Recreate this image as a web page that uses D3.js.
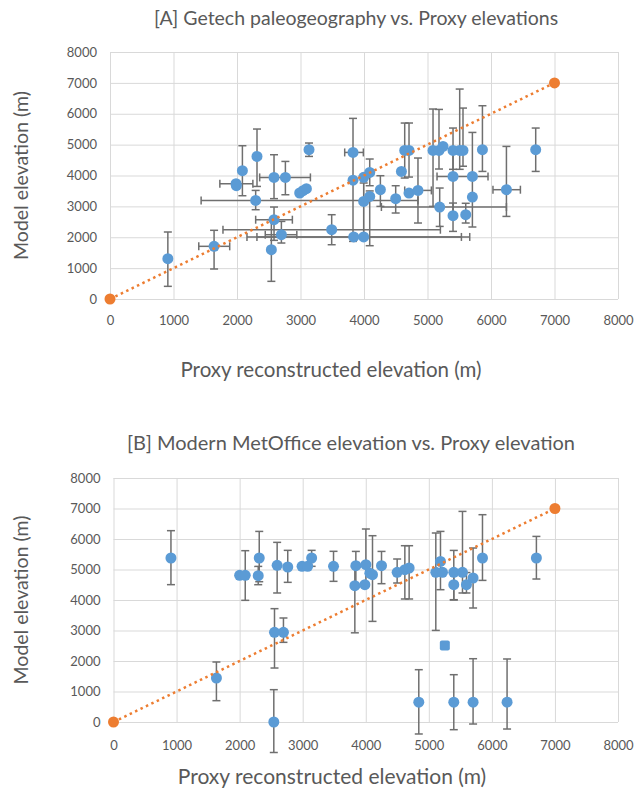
<!DOCTYPE html>
<html>
<head>
<meta charset="utf-8">
<script src="https://cdn.jsdelivr.net/npm/d3@7"></script>
<style>
  body { margin: 0; background: #fff; }
  text { font-family: Lato, "Open Sans", sans-serif; fill: #595959; }
</style>
</head>
<body>
<svg id="chart" width="640" height="793"></svg>
<script>
const tickValues = [0, 1000, 2000, 3000, 4000, 5000, 6000, 7000, 8000];
const titleA = '[A] Getech paleogeography vs. Proxy elevations';
const titleB = '[B] Modern MetOffice elevation vs. Proxy elevation';
const xTitle = 'Proxy reconstructed elevation (m)';
const yTitle = 'Model elevation (m)';
const oneToOne = [[0, 0], [7000, 7000]];

// [proxy, model, modelLow, modelHigh, proxyLow, proxyHigh]
const getechPoints = [
  [911, 1307, 410, 2170, null, null],
  [1639, 1706, 972, 2225, 1398, 1885],
  [1985, 3734, null, null, 1730, 2250],
  [1990, 3669, null, null, null, null],
  [2085, 4155, 3345, 4964, null, null],
  [2315, 4618, 3646, 5505, null, null],
  [2294, 3194, 2892, 3517, 1435, 4850],
  [2583, 3938, 3250, 4673, null, null],
  [2762, 3938, 3377, 4456, 2357, 3156],
  [2583, 2568, 1900, 2979, 2294, 2872],
  [2541, 1596, 572, 2570, null, null],
  [2699, 2082, 1813, 2513, 2445, 2942],
  [2987, 3433, null, null, null, null],
  [3040, 3507, null, null, null, null],
  [3093, 3572, null, null, null, null],
  [3134, 4835, 4618, 5052, null, null],
  [3491, 2244, 1758, 2730, 1779, 5203],
  [3827, 4747, null, null, 3696, 3990],
  [3827, 3850, 1866, 5850, null, null],
  [3838, 2010, null, null, 2157, 5534],
  [3995, 2010, null, null, 2314, 5665],
  [3995, 3940, null, null, null, null],
  [4090, 4100, 3669, 4534, null, null],
  [3995, 3161, 2010, 3757, null, null],
  [4090, 3323, 1726, 3500, null, null],
  [4258, 3540, 2999, 3993, null, null],
  [4499, 3248, 2785, 3669, null, null],
  [4589, 4132, null, null, null, null],
  [4641, 4812, 3918, 5699, null, null],
  [4709, 4812, 3950, 5700, null, null],
  [4709, 3432, null, null, null, null],
  [4850, 3517, 2461, 4566, 4641, 5061],
  [5087, 4812, 3000, 6153, null, null],
  [5181, 4812, 4210, 6140, null, null],
  [5244, 4942, null, null, null, null],
  [5192, 2979, 2351, 3594, 4274, 6243],
  [5402, 4812, 4200, 5537, null, null],
  [5507, 4812, 4200, 6800, null, null],
  [5559, 4812, 4300, 6184, null, null],
  [5402, 3970, 2700, 4812, 5150, 5953],
  [5402, 2697, 2190, 3108, null, null],
  [5602, 2730, 2461, 3100, null, null],
  [5707, 3970, 2332, 5395, null, null],
  [5707, 3303, null, null, null, null],
  [5865, 4835, 4132, 6260, null, null],
  [6243, 3540, 2675, 4942, 6031, 6463],
  [6704, 4835, 4132, 5537, null, null]
];

// [proxy, model, modelLow, modelHigh]
const metofficePoints = [
  [911, 5377, 4503, 6273],
  [1632, 1443, 699, 1967],
  [2000, 4809, null, null],
  [2089, 4809, 3989, 5617],
  [2311, 5377, 4600, 6249],
  [2295, 4797, 4502, 5102],
  [2595, 5137, 4230, 5890],
  [2763, 5082, 4579, 5628],
  [2990, 5104, null, null],
  [3079, 5104, null, null],
  [3142, 5377, 5104, 5628],
  [3489, 5104, 4612, 5596],
  [2553, 2940, 1770, 3716],
  [2695, 2940, 2612, 3410],
  [2542, 0, -1000, 1060],
  [3843, 5125, 4469, 5593],
  [3827, 4469, 2924, 5100],
  [4002, 5158, 4500, 6328],
  [3986, 4502, null, null],
  [4065, 4880, null, null],
  [4107, 4830, 3299, 6108],
  [4250, 5125, 4535, 5593],
  [4498, 4906, 4557, 5344],
  [4620, 4993, 4033, 5780],
  [4688, 5049, 4033, 5780],
  [5111, 4906, 3003, 6197],
  [5185, 5266, 4338, 6249],
  [5217, 4906, null, null],
  [5396, 4906, 4000, 5626],
  [5396, 4502, 4010, 4900],
  [5534, 4906, 4230, 6905],
  [5597, 4502, 4230, 4900],
  [5702, 4721, 3738, 5705],
  [5851, 5377, 4643, 6797],
  [6706, 5377, 4688, 6085],
  [4841, 650, -393, 1715],
  [5396, 650, -252, 1551],
  [5702, 650, -66, 2075],
  [6241, 650, -230, 2066]
];
const metofficeSquare = [[5254, 2512]];

const svg = d3.select('#chart');

function drawPanel(cfg) {
  const g = svg.append('g');
  const x = d3.scaleLinear().domain([0, 8000]).range([cfg.left, cfg.right]);
  const y = d3.scaleLinear().domain([0, 8000]).range([cfg.bottom, cfg.top]);

  // gridlines
  g.append('g')
    .attr('transform', `translate(0,${cfg.bottom})`)
    .call(d3.axisBottom(x).tickValues(tickValues).tickSize(-(cfg.bottom - cfg.top)).tickFormat(''))
    .call(a => a.select('.domain').remove())
    .call(a => a.selectAll('line').attr('stroke', '#d9d9d9'));
  g.append('g')
    .attr('transform', `translate(${cfg.left},0)`)
    .call(d3.axisLeft(y).tickValues(tickValues).tickSize(-(cfg.right - cfg.left)).tickFormat(''))
    .call(a => a.select('.domain').remove())
    .call(a => a.selectAll('line').attr('stroke', '#d9d9d9'));

  // tick labels
  const fmt = d3.format('d');
  g.append('g')
    .attr('transform', `translate(0,${cfg.bottom})`)
    .call(d3.axisBottom(x).tickValues(tickValues).tickSize(0).tickPadding(cfg.xPad).tickFormat(fmt))
    .call(a => a.select('.domain').remove())
    .call(a => a.selectAll('text').attr('font-size', 13).attr('font-family', 'Lato, sans-serif').attr('fill', '#595959'));
  g.append('g')
    .attr('transform', `translate(${cfg.left},0)`)
    .call(d3.axisLeft(y).tickValues(tickValues).tickSize(0).tickPadding(13).tickFormat(fmt))
    .call(a => a.select('.domain').remove())
    .call(a => a.selectAll('text').attr('font-size', 13).attr('font-family', 'Lato, sans-serif').attr('fill', '#595959'));

  // titles
  g.append('text').attr('x', cfg.titleX).attr('y', cfg.titleY)
    .attr('text-anchor', 'middle').attr('font-size', cfg.titleSize).text(cfg.title);
  g.append('text').attr('x', cfg.xTitleX).attr('y', cfg.xTitleY)
    .attr('text-anchor', 'middle').attr('font-size', cfg.xTitleSize).text(xTitle);
  g.append('text')
    .attr('transform', `translate(${cfg.yTitleX},${(cfg.top + cfg.bottom) / 2}) rotate(-90)`)
    .attr('text-anchor', 'middle').attr('font-size', 19.5).text(yTitle);

  // error bars
  const cap = 4;
  const eb = g.append('g').attr('stroke', '#6f6f6f').attr('stroke-width', 1.5).attr('fill', 'none');
  cfg.points.forEach(d => {
    const [px, py, lo, hi, xlo, xhi] = d;
    if (lo != null) {
      eb.append('line').attr('x1', x(px)).attr('x2', x(px)).attr('y1', y(lo)).attr('y2', y(hi));
      [lo, hi].forEach(v => eb.append('line')
        .attr('x1', x(px) - cap).attr('x2', x(px) + cap).attr('y1', y(v)).attr('y2', y(v)));
    }
    if (xlo != null) {
      eb.append('line').attr('x1', x(xlo)).attr('x2', x(xhi)).attr('y1', y(py)).attr('y2', y(py));
      [xlo, xhi].forEach(v => eb.append('line')
        .attr('x1', x(v)).attr('x2', x(v)).attr('y1', y(py) - cap).attr('y2', y(py) + cap));
    }
  });

  // markers
  g.append('g').selectAll('circle')
    .data(cfg.points)
    .join('circle')
    .attr('cx', d => x(d[0]))
    .attr('cy', d => y(d[1]))
    .attr('r', 5.5)
    .attr('fill', '#5b9bd5');
  if (cfg.squares) {
    g.append('g').selectAll('rect')
      .data(cfg.squares)
      .join('rect')
      .attr('x', d => x(d[0]) - 5)
      .attr('y', d => y(d[1]) - 5)
      .attr('width', 10).attr('height', 10).attr('rx', 2)
      .attr('fill', '#5b9bd5');
  }

  // 1:1 line
  g.append('path')
    .datum(oneToOne)
    .attr('d', d3.line().x(d => x(d[0])).y(d => y(d[1])))
    .attr('fill', 'none')
    .attr('stroke', '#ed7d31')
    .attr('stroke-width', 2.5)
    .attr('stroke-dasharray', '2.5,3.5');
  g.append('g').selectAll('circle')
    .data(oneToOne)
    .join('circle')
    .attr('cx', d => x(d[0]))
    .attr('cy', d => y(d[1]))
    .attr('r', 5.5)
    .attr('fill', '#ed7d31');
}

drawPanel({
  left: 110, right: 618, top: 52, bottom: 299,
  xPad: 17, title: titleA, titleX: 356, titleY: 25, titleSize: 19.5,
  xTitleX: 331, xTitleY: 377, xTitleSize: 20.5, yTitleX: 28,
  points: getechPoints
});

drawPanel({
  left: 113.5, right: 618, top: 478, bottom: 722,
  xPad: 19, title: titleB, titleX: 351, titleY: 450, titleSize: 20,
  xTitleX: 332, xTitleY: 784, xTitleSize: 21, yTitleX: 28,
  points: metofficePoints.map(d => [d[0], d[1], d[2], d[3], null, null]),
  squares: metofficeSquare
});
</script>
</body>
</html>
